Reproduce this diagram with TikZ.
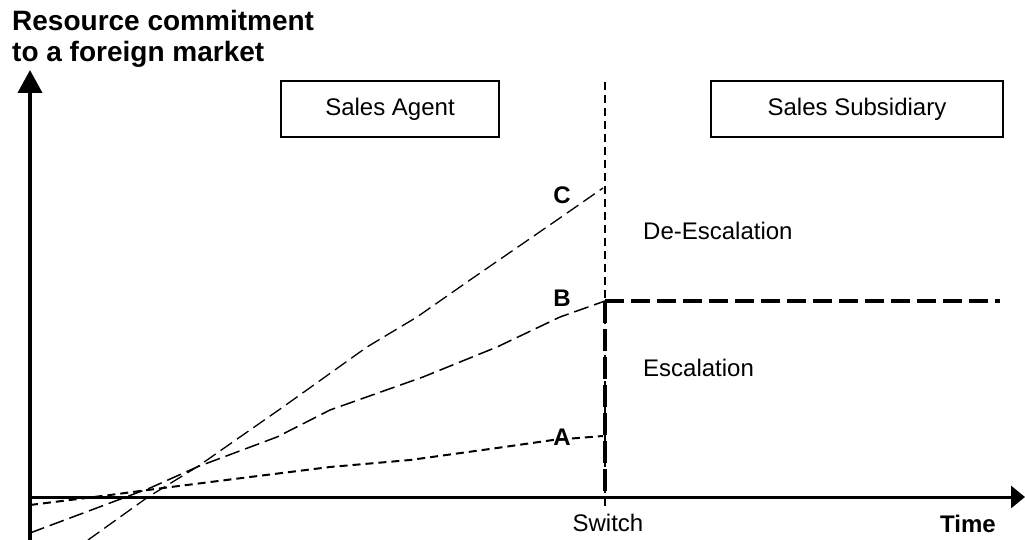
\documentclass[tikz,border=0pt]{standalone}
\usepackage{fontspec}
\setmainfont{Liberation Sans}
\usetikzlibrary{arrows.meta}
\begin{document}
\begin{tikzpicture}[x=1pt,y=-1pt,
  txt/.style={inner sep=0pt,font=\fontsize{24}{28}\selectfont},
  btxt/.style={inner sep=0pt,font=\fontsize{24}{28}\selectfont\bfseries},
  ttl/.style={inner sep=0pt,anchor=base west,font=\fontsize{28}{30}\selectfont\bfseries},
  phasebox/.style={draw,line width=1.8pt,minimum height=56pt,inner sep=0pt,font=\fontsize{24}{28}\selectfont},
  axis/.style={line width=3pt},
  curveC/.style={line width=1.3pt,dash pattern=on 14pt off 6pt,line join=round},
  curveB/.style={line width=1.5pt,dash pattern=on 15pt off 6pt,line join=round},
  curveA/.style={line width=2pt,dash pattern=on 8pt off 5pt,line join=round},
  switchline/.style={line width=1.3pt,dash pattern=on 8pt off 5pt},
  thickdash/.style={line width=3.5pt,dash pattern=on 22pt off 6pt},
  hdash/.style={line width=4pt,dash pattern=on 19pt off 7pt}]
\useasboundingbox (0,0) rectangle (1025,540);
% coordinates
\coordinate (O) at (30,497);
\coordinate (ybot) at (30,540);
\coordinate (ytop) at (30,70);
\coordinate (xtip) at (1025,497);
\coordinate (swtop) at (605,82);
\coordinate (swbot) at (605,506);
\coordinate (bEnd) at (605,301);
\coordinate (bAxis) at (605,497);
\coordinate (hEnd) at (1000,301);
% title
\node[ttl] (t1) at (12,31) {Resource commitment};
\node[ttl] (t2) at (12,62) {to a foreign market};
% boxes
\node[phasebox,minimum width=218pt] (agent) at (390,109) {Sales Agent};
\node[phasebox,minimum width=292pt] (subs) at (857,109) {Sales Subsidiary};
% axes
\draw[axis,line width=4pt,-{Triangle[length=23pt,width=24pt]}] (ybot) -- (ytop);
\draw[axis,-{Triangle[length=14pt,width=22pt]}] (O) -- (xtip);
% switch line
\draw[switchline] (swtop) -- (swbot);
\draw[thickdash] (bEnd) -- (bAxis);
\draw[hdash] (bEnd) -- (hEnd);
% curves
\draw[curveC] (88,540) -- (148,497) -- (197,467) -- (283,407) -- (367,347) -- (417,317) -- (470,280) -- (557,220) -- (603,188);
\draw[curveB] (30,533) -- (150,488) -- (197,467) -- (277,437) -- (330,410) -- (423,377) -- (497,347) -- (560,317) -- (bEnd);
\draw[curveA] (30,505) -- (110,495) -- (163,488) -- (250,477) -- (330,467) -- (410,460) -- (497,448) -- (553,440) -- (603,436);
% labels
\node[btxt] (lC) at (562,195) {C};
\node[btxt] (lB) at (562,298) {B};
\node[btxt] (lA) at (562,437) {A};
\node[txt,anchor=west] (de) at (643,231) {De-Escalation};
\node[txt,anchor=west] (es) at (643,368) {Escalation};
\node[txt] (sw) at (608,523) {Switch};
\node[btxt] (time) at (968,524) {Time};
\end{tikzpicture}
\end{document}
